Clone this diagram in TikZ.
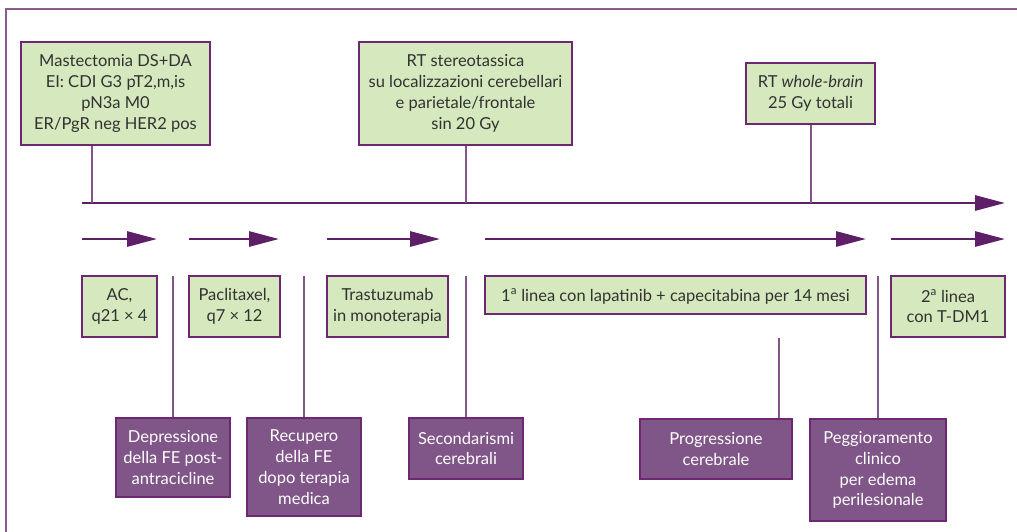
\documentclass[tikz,border=0pt]{standalone}
\usepackage{fontspec}
\setmainfont{Lato}
\usetikzlibrary{arrows.meta}
\definecolor{gfill}{RGB}{213,232,190}
\definecolor{pborder}{RGB}{110,40,115}
\definecolor{pfill}{RGB}{128,85,136}
\definecolor{parrow}{RGB}{94,30,104}
\definecolor{frame}{RGB}{140,90,145}
\definecolor{txt}{RGB}{50,50,50}
\tikzset{
  gbox/.style={draw=pborder, line width=1.3pt, fill=gfill, text=txt, align=center, inner sep=0pt, font=\fontsize{16.5}{20.8}\selectfont},
  pbox/.style={draw=pborder, line width=1.3pt, fill=pfill, text=white, align=center, inner sep=0pt, font=\fontsize{16.5}{20.8}\selectfont},
  conn/.style={draw=pfill, line width=1.4pt},
  tline/.style={draw=parrow, line width=2.8pt, -{Triangle[length=30pt,width=15pt]}},
}
\begin{document}
\begin{tikzpicture}[x=1pt,y=-1pt]
\useasboundingbox (0,0) rectangle (1017,531);
\draw[frame, line width=1.3pt] (6,540) -- (6,9) -- (1030,9);
% top boxes
\node[gbox, minimum width=189pt, minimum height=103pt] (b1) at (115.5,93.5) {Mastectomia DS+DA\\EI: CDI G3 pT2,m,is\\pN3a M0\\ER/PgR neg HER2 pos};
\node[gbox, minimum width=213pt, minimum height=103pt] (b2) at (465.5,93.5) {RT stereotassica\\su localizzazioni cerebellari\\e parietale/frontale\\sin 20 Gy};
\node[gbox, minimum width=129pt, minimum height=61pt] (b3) at (810.5,93.5) {RT \textit{whole-brain}\\25 Gy totali};
% timeline
\coordinate (ts) at (82,203);
\coordinate (te) at (1005,203);
\coordinate (t1) at (92,203);
\coordinate (t2) at (466,203);
\coordinate (t3) at (811,203);
\draw[tline] (ts) -- (te);
\draw[conn] (b1.south -| t1) -- (t1);
\draw[conn] (b2.south -| t2) -- (t2);
\draw[conn] (b3.south -| t3) -- (t3);
% therapy arrows
\coordinate (a1s) at (82,239); \coordinate (a1e) at (157,239);
\coordinate (a2s) at (189,239); \coordinate (a2e) at (279,239);
\coordinate (a3s) at (327,239); \coordinate (a3e) at (440,239);
\coordinate (a4s) at (485,239); \coordinate (a4e) at (866,239);
\coordinate (a5s) at (891,239); \coordinate (a5e) at (1005,239);
\draw[tline] (a1s) -- (a1e);
\draw[tline] (a2s) -- (a2e);
\draw[tline] (a3s) -- (a3e);
\draw[tline] (a4s) -- (a4e);
\draw[tline] (a5s) -- (a5e);
% therapy boxes
\node[gbox, minimum width=75pt, minimum height=61pt] (g1) at (119.5,306.5) {AC,\\q21 × 4};
\node[gbox, minimum width=91pt, minimum height=61pt] (g2) at (234.5,306.5) {Paclitaxel,\\q7 × 12};
\node[gbox, minimum width=121pt, minimum height=61pt] (g3) at (387.5,306.5) {Trastuzumab\\in monoterapia};
\node[gbox, minimum width=381pt, minimum height=38pt, text depth=0pt] (g4) at (675.5,295) {1\textsuperscript{a} linea con lapatinib + capecitabina per 14 mesi};
\node[gbox, minimum width=114pt, minimum height=61pt] (g5) at (948,306.5) {2\textsuperscript{a} linea\\con T-DM1};
% event boxes
\node[pbox, minimum width=114pt, minimum height=79pt] (p1) at (173,457.5) {Depressione\\della FE post-\\antracicline};
\node[pbox, minimum width=114pt, minimum height=98pt] (p2) at (304,467) {Recupero\\della FE\\dopo terapia\\medica};
\node[pbox, minimum width=114pt, minimum height=61pt] (p3) at (466,448.5) {Secondarismi\\cerebrali};
\node[pbox, minimum width=152pt, minimum height=60pt] (p4) at (716,449) {Progressione\\cerebrale};
\node[pbox, minimum width=136pt, minimum height=102pt] (p5) at (878,470) {Peggioramento\\clinico\\per edema\\perilesionale};
% event connectors
\coordinate (c1) at (173,276);
\coordinate (c2) at (304,276);
\coordinate (c3) at (466,276);
\coordinate (c4) at (779,338);
\coordinate (c5) at (878,276);
\draw[conn] (c1) -- (p1.north);
\draw[conn] (c2) -- (p2.north);
\draw[conn] (c3) -- (p3.north);
\draw[conn] (c4) -- (c4 |- p4.north);
\draw[conn] (c5) -- (p5.north);
\end{tikzpicture}
\end{document}
